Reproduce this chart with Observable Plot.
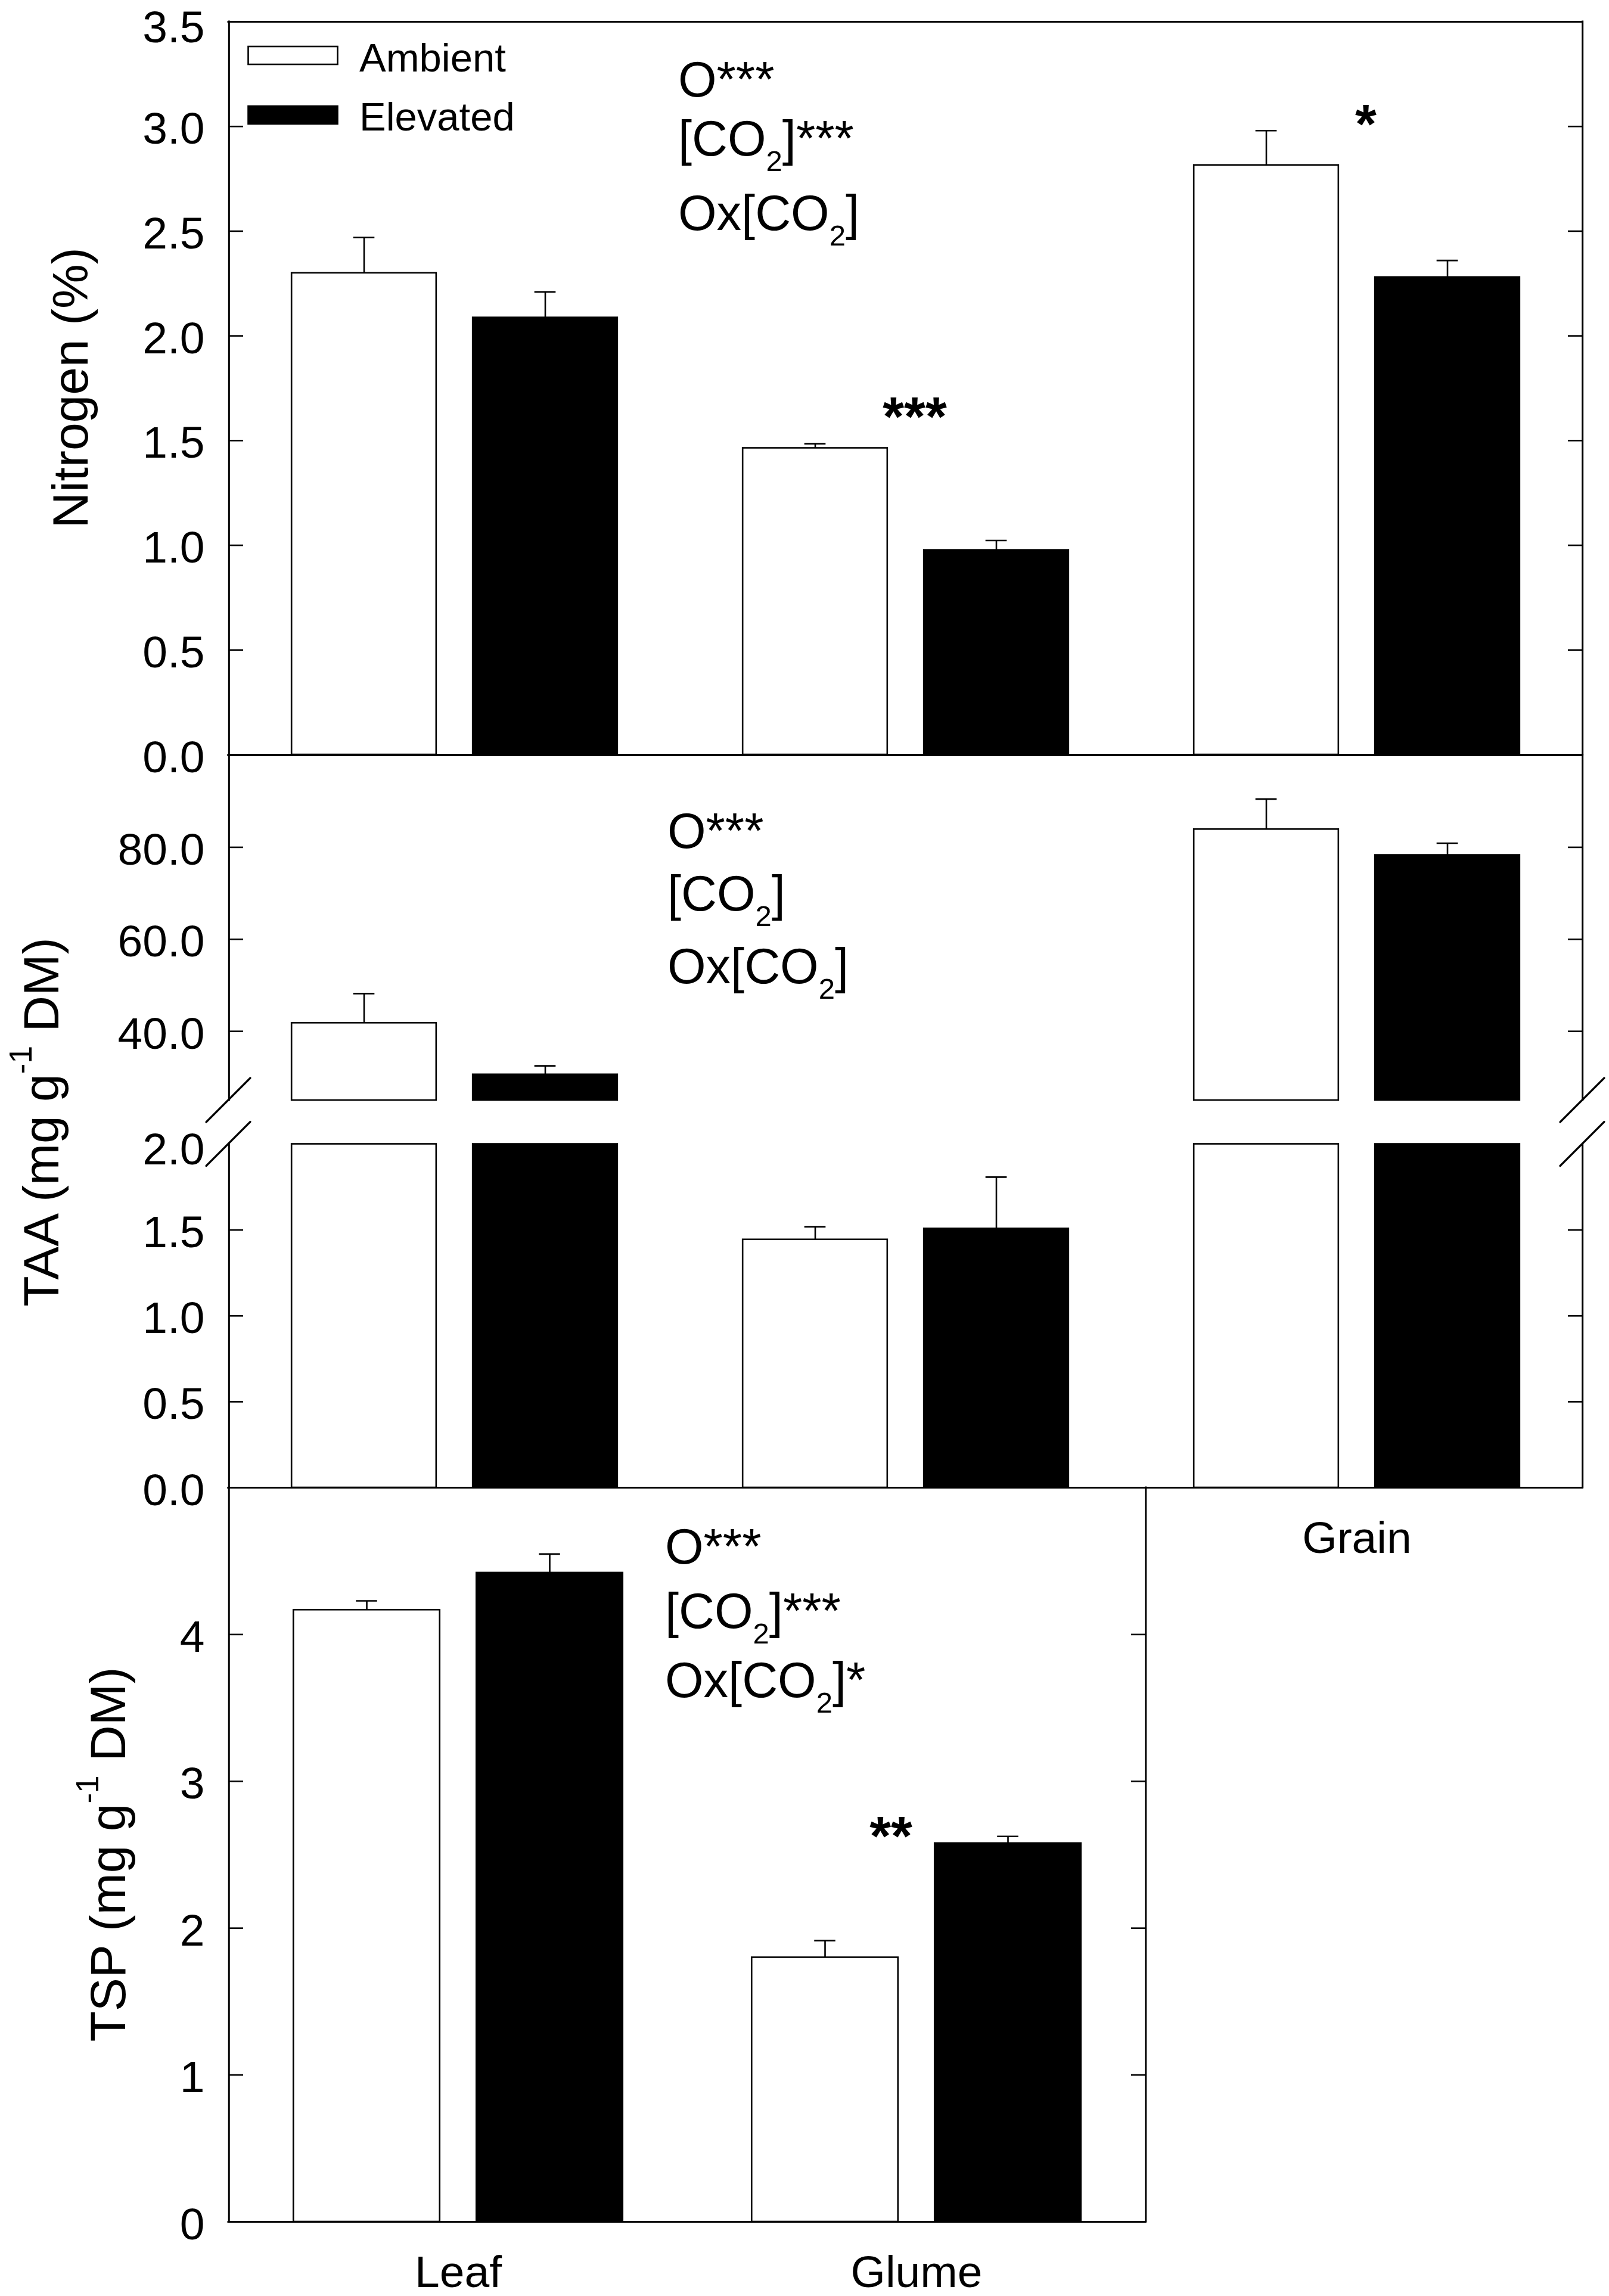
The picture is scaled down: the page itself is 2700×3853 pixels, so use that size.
<!DOCTYPE html>
<html><head><meta charset="utf-8">
<script src="https://cdn.jsdelivr.net/npm/d3@7"></script>
<script src="https://cdn.jsdelivr.net/npm/@observablehq/plot@0.6"></script>
<style>
body{margin:0;background:#fff;}
#chart{position:relative;width:2700px;height:3853px;background:#fff;overflow:hidden;}
#chart > svg{position:absolute;left:0;}
</style></head><body><div id="chart"></div>
<script>
// ---------------- data ----------------
const categories = ["Leaf", "Glume", "Grain"];
const seriesNames = ["Ambient", "Elevated"];

const nitrogenAmbient    = [2.30, 1.464, 2.815];
const nitrogenAmbientSE  = [0.17, 0.021, 0.165];
const nitrogenElevated   = [2.087, 0.977, 2.28];
const nitrogenElevatedSE = [0.123, 0.046, 0.08];

const taaAmbient    = [41.8, 1.444, 83.9];
const taaAmbientSE  = [6.4, 0.075, 6.6];
const taaElevated   = [30.6, 1.508, 78.3];
const taaElevatedSE = [1.9, 0.30, 2.6];

const tspCategories = ["Leaf", "Glume"];
const tspAmbient    = [4.167, 1.80];
const tspAmbientSE  = [0.062, 0.115];
const tspElevated   = [4.42, 2.578];
const tspElevatedSE = [0.128, 0.047];

const nitrogenSig = ["", "***", "*"];
const tspSig = ["", "**"];

const nitrogenStats = ["O***", "[CO2]***", "Ox[CO2]"];
const taaStats = ["O***", "[CO2]", "Ox[CO2]"];
const tspStats = ["O***", "[CO2]***", "Ox[CO2]*"];

const nitrogenDomain = [0, 3.5];
const nitrogenLabelTicks = [0, 0.5, 1, 1.5, 2, 2.5, 3, 3.5];
const nitrogenTickMarks = [0.5, 1, 1.5, 2, 2.5, 3];
const taaUpperDomain = [25, 100];
const taaUpperTicks = [40, 60, 80];
const taaLowerDomain = [0, 2];
const taaLowerLabelTicks = [0, 0.5, 1, 1.5, 2];
const taaLowerTickMarks = [0.5, 1, 1.5];
const tspDomain = [0, 5];
const tspLabelTicks = [0, 1, 2, 3, 4];
const tspTickMarks = [1, 2, 3, 4];

const yLabelNitrogen = [["Nitrogen (%)"]];
const yLabelTAA = [["TAA (mg g"], ["-1", "sup"], [" DM)"]];
const yLabelTSP = [["TSP (mg g"], ["-1", "sup"], [" DM)"]];

// ---------------- helpers ----------------
function table(cats, amb, ambSE, elev, elevSE) {
  const rows = [];
  cats.forEach((c, i) => {
    rows.push({category: c, series: "Ambient", value: amb[i], se: ambSE[i]});
    rows.push({category: c, series: "Elevated", value: elev[i], se: elevSE[i]});
  });
  return rows;
}
const nitrogenRows = table(categories, nitrogenAmbient, nitrogenAmbientSE, nitrogenElevated, nitrogenElevatedSE);
const taaRows = table(categories, taaAmbient, taaAmbientSE, taaElevated, taaElevatedSE);
const tspRows = table(tspCategories, tspAmbient, tspAmbientSE, tspElevated, tspElevatedSE);

const FONT = "'Liberation Sans', Arial, Helvetica, sans-serif";
const INK = "#000";
const SW = 2.6;
const FRAME_LEFT = 383;

function makePanel(cfg) {
  const {cats, rows, svgTop, svgHeight, frameTop, frameBottom, frameRight, domain,
         labelTicks, tickMarks, fmt, xTicks, sides, barW, gap,
         y1, y2, barFilter, errFilter, sig} = cfg;
  const bw = (frameRight - FRAME_LEFT) / cats.length;
  const outer = (bw - 2 * barW - gap) / 2;
  const off = (gap + barW) / 2;
  const cap = 36;
  const marks = [];
  for (const s of seriesNames) {
    const amb = s === "Ambient";
    const data = rows.filter(d => d.series === s);
    marks.push(Plot.barY(data, {
      x: "category", y1, y2, filter: barFilter,
      fill: amb ? "white" : INK, stroke: INK, strokeWidth: SW,
      insetLeft: amb ? outer : outer + barW + gap,
      insetRight: amb ? outer + barW + gap : outer
    }));
    const cx = amb ? -off : off;
    marks.push(Plot.ruleX(data, {x: "category", y1: "value", y2: d => d.value + d.se, filter: errFilter, dx: cx, stroke: INK, strokeWidth: SW}));
    marks.push(Plot.tickY(data, {x: "category", y: d => d.value + d.se, filter: errFilter,
      insetLeft: bw / 2 + cx - cap / 2, insetRight: bw / 2 - cx - cap / 2, stroke: INK, strokeWidth: SW}));
  }
  // axes (the label at the very top edge sits a little lower, as in the original)
  const inner = labelTicks.filter(t => t !== domain[1]);
  const edge = labelTicks.filter(t => t === domain[1]);
  marks.push(Plot.axisY({ticks: inner, tickSize: 0, tickPadding: 40, dy: 5, tickFormat: fmt, label: null}));
  if (edge.length) marks.push(Plot.axisY({ticks: edge, tickSize: 0, tickPadding: 40, dy: 10, tickFormat: fmt, label: null}));
  marks.push(Plot.axisY({ticks: tickMarks, tickSize: 25, dx: 25, fill: "none", stroke: INK, strokeWidth: SW, label: null}));
  marks.push(Plot.axisY({anchor: "right", ticks: tickMarks, tickSize: 25, dx: -25, fill: "none", stroke: INK, strokeWidth: SW, label: null}));
  if (xTicks) marks.push(Plot.axisX({ticks: xTicks, tickSize: 0, tickPadding: 56, label: null}));
  // frame
  const fr = {stroke: INK, strokeWidth: 3, strokeLinecap: "square"};
  if (sides.includes("top")) marks.push(Plot.ruleY([domain[1]], fr));
  if (sides.includes("bottom")) marks.push(Plot.ruleY([domain[0]], fr));
  marks.push(Plot.ruleX([cats[0]], {...fr, x: d => d, dx: -bw / 2}));
  marks.push(Plot.ruleX([cats[cats.length - 1]], {...fr, x: d => d, dx: bw / 2}));
  // significance
  if (sig) {
    cats.forEach((c, i) => {
      if (!sig.labels[i]) return;
      const top = d3.max(rows.filter(r => r.category === c), r => r.value + r.se);
      marks.push(Plot.text([{category: c, top, label: sig.labels[i]}], {
        x: "category", y: "top", text: "label", dx: sig.dx[i], dy: sig.dy[i],
        fontWeight: "bold", fontSize: 92, fill: INK
      }));
    });
  }
  const svg = Plot.plot({
    width: 2700, height: svgHeight,
    marginLeft: FRAME_LEFT, marginRight: 2700 - frameRight,
    marginTop: frameTop - svgTop, marginBottom: svgTop + svgHeight - frameBottom,
    x: {type: "band", domain: cats, padding: 0, axis: null},
    y: {domain, axis: null},
    style: {fontFamily: FONT, fontSize: "75px", background: "transparent", color: INK, overflow: "visible"},
    marks
  });
  svg.style.top = svgTop + "px";
  svg.style.position = "absolute";
  svg.style.left = "0px";
  return svg;
}

const chart = document.getElementById("chart");
const f1 = d3.format(".1f");
const fInt = d3.format("d");

chart.append(makePanel({
  cats: categories, rows: nitrogenRows, svgTop: 0, svgHeight: 1300,
  frameTop: 36, frameBottom: 1266, frameRight: 2655, domain: nitrogenDomain,
  labelTicks: nitrogenLabelTicks, tickMarks: nitrogenTickMarks, fmt: f1, xTicks: null,
  sides: ["top", "bottom"], barW: 243, gap: 61,
  y1: () => 0, y2: "value", barFilter: null, errFilter: null,
  sig: {labels: nitrogenSig, dx: [0, 15, 15], dy: [0, -43, -9]}
}));

chart.append(makePanel({
  cats: categories, rows: taaRows, svgTop: 1200, svgHeight: 700,
  frameTop: 1267, frameBottom: 1846, frameRight: 2655, domain: taaUpperDomain,
  labelTicks: taaUpperTicks, tickMarks: taaUpperTicks, fmt: f1, xTicks: null,
  sides: ["top"], barW: 243, gap: 61,
  y1: () => taaUpperDomain[0], y2: "value",
  barFilter: d => d.value > taaUpperDomain[0], errFilter: d => d.value > taaUpperDomain[0],
  sig: null
}));

chart.append(makePanel({
  cats: categories, rows: taaRows, svgTop: 1880, svgHeight: 800,
  frameTop: 1919.5, frameBottom: 2496, frameRight: 2655, domain: taaLowerDomain,
  labelTicks: taaLowerLabelTicks, tickMarks: taaLowerTickMarks, fmt: f1, xTicks: ["Grain"],
  sides: ["bottom"], barW: 243, gap: 61,
  y1: () => 0, y2: d => Math.min(d.value, taaLowerDomain[1]),
  barFilter: null, errFilter: d => d.value + d.se < taaLowerDomain[1],
  sig: null
}));

chart.append(makePanel({
  cats: tspCategories, rows: tspRows, svgTop: 2450, svgHeight: 1403,
  frameTop: 2496, frameBottom: 3728, frameRight: 1922, domain: tspDomain,
  labelTicks: tspLabelTicks, tickMarks: tspTickMarks, fmt: fInt, xTicks: tspCategories,
  sides: ["top", "bottom"], barW: 246, gap: 61,
  y1: () => 0, y2: "value", barFilter: null, errFilter: null,
  sig: {labels: tspSig, dx: [0, -43], dy: [0, 2]}
}));

// ---------------- overlay: legend, statistics, axis titles, break marks ----------------
const ov = d3.select(chart).append("svg")
  .attr("width", 2700).attr("height", 3853)
  .style("position", "absolute").style("left", "0px").style("top", "0px")
  .attr("font-family", FONT).attr("fill", INK);

function rich(parent, x, y, parts, size, subSize, anchor) {
  const t = parent.append("text").attr("x", x).attr("y", y).attr("font-size", size);
  if (anchor) t.attr("text-anchor", anchor);
  let shift = 0;
  for (const [s, kind] of parts) {
    const target = kind === "sub" ? 0.31 * size : kind === "sup" ? -0.54 * size : 0;
    const sp = t.append("tspan").attr("dy", target - shift).text(s);
    if (kind) sp.attr("font-size", subSize);
    shift = target;
  }
  return t;
}
function parseStat(s) {
  const parts = [];
  s.split(/(CO2)/).forEach(p => {
    if (p === "CO2") { parts.push(["CO"]); parts.push(["2", "sub"]); }
    else if (p) parts.push([p]);
  });
  return parts;
}
function stats(lines, x, baselines) {
  lines.forEach((s, i) => rich(ov, x, baselines[i], parseStat(s), 83, 49));
}
stats(nitrogenStats, 1138, [162, 261, 386]);
stats(taaStats, 1120, [1423, 1528, 1650]);
stats(tspStats, 1116, [2624, 2732, 2848]);

// legend
const lg = ov.append("g");
seriesNames.forEach((s, i) => {
  lg.append("rect").attr("x", 416.5).attr("y", 78 + i * 100).attr("width", 150).attr("height", 30)
    .attr("fill", i === 0 ? "white" : INK).attr("stroke", INK).attr("stroke-width", SW);
  lg.append("text").attr("x", 603).attr("y", 120 + i * 99).attr("font-size", 67).text(s);
});

// y-axis titles
function yTitle(x, y, parts) {
  const g = ov.append("g").attr("transform", `translate(${x},${y}) rotate(-90)`);
  rich(g, 0, 0, parts, 84, 53, "middle");
}
yTitle(147, 651, yLabelNitrogen);
yTitle(98, 1883, yLabelTAA);
yTitle(210, 3112, yLabelTSP);

// axis break marks
[FRAME_LEFT, 2655].forEach(x => {
  [1846, 1919.5].forEach(y => {
    ov.append("line").attr("x1", x - 37).attr("y1", y + 37).attr("x2", x + 37).attr("y2", y - 37)
      .attr("stroke", INK).attr("stroke-width", 3.2).attr("stroke-linecap", "round");
  });
});
</script></body></html>
